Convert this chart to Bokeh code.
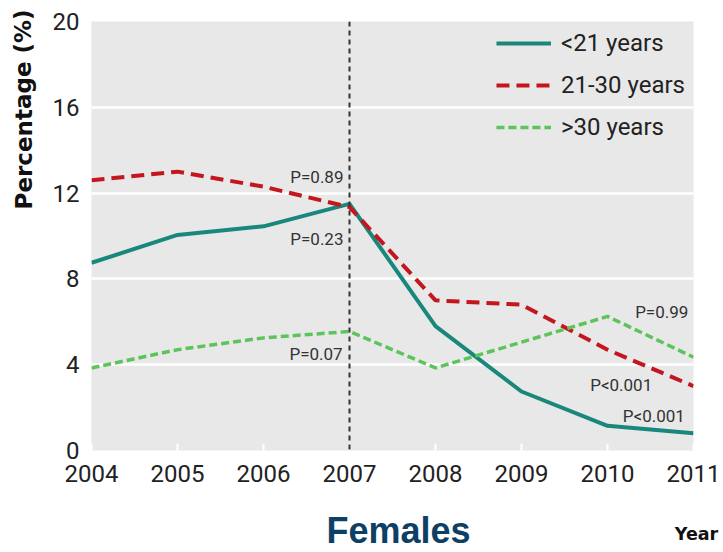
from bokeh.plotting import figure
from bokeh.models import Range1d, Label, Legend, LegendItem, Span, FixedTicker
from bokeh.embed import file_html
from bokeh.resources import INLINE

years = [2004, 2005, 2006, 2007, 2008, 2009, 2010, 2011]
under21 = [8.75, 10.05, 10.45, 11.5, 5.8, 2.75, 1.15, 0.8]
age21_30 = [12.6, 13.0, 12.3, 11.35, 7.0, 6.8, 4.7, 3.0]
over30 = [3.85, 4.7, 5.25, 5.55, 3.85, 5.05, 6.25, 4.35]
series_labels = ["<21 years", "21-30 years", ">30 years"]
y_ticks = [0, 4, 8, 12, 16, 20]
p_labels = ["P=0.89", "P=0.23", "P=0.07", "P=0.99", "P<0.001", "P<0.001"]
p_x = [2006.93, 2006.93, 2006.92, 2010.94, 2010.52, 2010.9]
p_y = [12.76, 9.86, 4.49, 6.46, 3.04, 1.6]

FONT = "Roboto"
TEAL = "#1a877c"
RED = "#c3161f"
GREEN = "#5cc45a"

p = figure(width=723, height=552, output_backend="svg", toolbar_location=None,
           x_range=Range1d(2004, 2011), y_range=Range1d(0, 20),
           min_border_left=91, min_border_right=30, min_border_top=21, min_border_bottom=102)
p.background_fill_color = "#e8e8e8"
p.border_fill_color = "white"
p.outline_line_color = None

p.xgrid.grid_line_color = None
p.ygrid.grid_line_color = "white"
p.ygrid.grid_line_width = 2.5
p.yaxis.ticker = FixedTicker(ticks=y_ticks)
p.xaxis.ticker = FixedTicker(ticks=years)

for ax in (p.xaxis[0], p.yaxis[0]):
    ax.axis_line_color = None
    ax.major_label_text_font = FONT
    ax.major_label_text_font_size = "24px"
    ax.major_label_text_color = "#222222"
    ax.minor_tick_line_color = None
p.xaxis.major_tick_line_color = "white"
p.xaxis.major_tick_line_width = 2
p.xaxis.major_tick_in = 7
p.xaxis.major_tick_out = 0
p.xaxis.major_label_standoff = 14
p.yaxis.major_tick_line_color = None
p.yaxis.major_label_standoff = 6

vline = Span(location=2007, dimension="height", line_color="#333333",
             line_width=2, line_dash="5 4")
p.add_layout(vline)

r1 = p.line(years, under21, line_color=TEAL, line_width=4)
r2 = p.line(years, age21_30, line_color=RED, line_width=4, line_dash="13 7")
r3 = p.line(years, over30, line_color=GREEN, line_width=3.5, line_dash="8 4")

legend = Legend(items=[LegendItem(label=series_labels[0], renderers=[r1]),
                       LegendItem(label=series_labels[1], renderers=[r2]),
                       LegendItem(label=series_labels[2], renderers=[r3])],
                location="top_right", background_fill_alpha=0, border_line_color=None,
                label_text_font=FONT, label_text_font_size="24px", label_text_color="#222222",
                glyph_width=55, glyph_height=20, label_height=20, spacing=14,
                label_standoff=10, padding=0, margin=8)
p.add_layout(legend)

for t, x, y in zip(p_labels, p_x, p_y):
    p.add_layout(Label(x=x, y=y, text=t, text_align="right", text_baseline="middle",
                       text_font=FONT, text_font_size="17px", text_color="#333333"))

p.add_layout(Label(x=0, y=15.9, y_units="data", x_units="screen",
                   text="Percentage (%)", angle=1.5708,
                   text_align="center", text_baseline="middle",
                   text_font="DejaVu Sans", text_font_style="bold",
                   text_font_size="23px", text_color="#111111"), "left")
p.add_layout(Label(x=2007.57, y=-5, x_units="data", y_units="screen",
                   text="Females", text_align="center",
                   text_baseline="alphabetic", text_font="Liberation Sans",
                   text_font_style="bold", text_font_size="36px", text_color="#0e3f64"), "below")
p.add_layout(Label(x=2011.035, y=-3.87, x_units="data", y_units="data",
                   text="Year", text_align="center",
                   text_baseline="alphabetic", text_font="DejaVu Sans",
                   text_font_style="bold", text_font_size="17.5px", text_color="#111111"), "above")

open("out.html", "w").write(file_html(p, INLINE))
